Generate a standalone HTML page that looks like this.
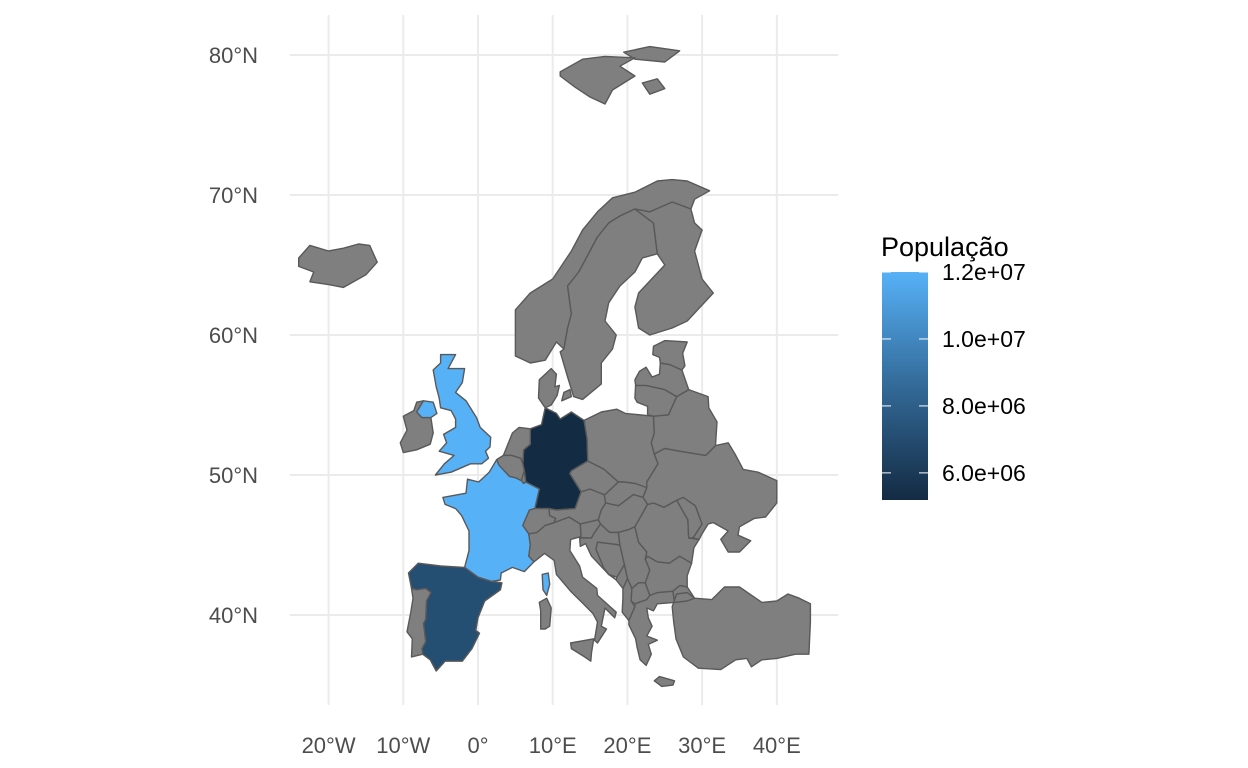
<!DOCTYPE html>
<html><head><meta charset="utf-8">
<style>
html,body{margin:0;padding:0;background:#fff;}
svg{display:block;font-family:"Liberation Sans",Arial,sans-serif;}
</style></head>
<body>
<svg id="chart" width="1248" height="768" viewBox="0 0 1248 768" xmlns="http://www.w3.org/2000/svg">
<g id="grid"></g>
<g id="map"></g>
<g id="axes"></g>
<g id="legend">
<defs><linearGradient id="grad" x1="0" y1="1" x2="0" y2="0">
<stop offset="0" stop-color="#132B43"/><stop offset="0.5" stop-color="#336A98"/><stop offset="1" stop-color="#56B1F7"/></linearGradient></defs>
<text x="881" y="256" font-size="27" fill="#000">População</text>
</g>
</svg>
<script>
const lonTicks=[-20,-10,0,10,20,30,40];
const lonLabels=["20°W","10°W","0°","10°E","20°E","30°E","40°E"];
const latTicks=[40,50,60,70,80];
const latLabels=["40°N","50°N","60°N","70°N","80°N"];
const legendValues=[12000000,10000000,8000000,6000000];
const legendLabels=["1.2e+07","1.0e+07","8.0e+06","6.0e+06"];
const popCountries=["France","United Kingdom","Spain","Germany"];
const popValues=[12000000,12000000,7100000,5200000];
const scaleMin=5190000, scaleMax=12000000;

const X=lon=>478+lon*7.47;
const Y=lat=>55+(80-lat)*14;
const LY=v=>272+(scaleMax-v)/(scaleMax-scaleMin)*228;

const shapes={
"Iceland":[[[-24,65.5],[-22.5,66.4],[-20,66],[-18,66.2],[-16,66.5],[-14.5,66.4],[-13.5,65.2],[-15,64.3],[-18,63.4],[-20,63.6],[-22.5,63.8],[-22,64.5],[-24,64.9]]],
"Svalbard":[[[11,78.8],[14,79.7],[17,79.9],[21,79.8],[19,79.2],[21,78.5],[18,77.5],[17,76.5],[15,77],[13,77.7],[11,78.5]],[[19.5,80.2],[23,80.6],[27,80.3],[25,79.5],[21,79.7]],[[22,78],[24,78.3],[25,77.6],[23,77.2]]],
"Norway":[[[5,58.5],[5,60],[5,61.8],[7,63],[10,64],[12.5,66],[14,67.5],[16,68.8],[18,69.8],[21,70.2],[24,71],[26,71.1],[28,71],[31,70.3],[29,69.7],[28.5,69],[26,69.5],[24,68.6],[21,69],[19,68.5],[17.5,68],[16,67],[15,66],[13.5,64.5],[12,63.5],[12.5,61.5],[12,60.5],[11.5,59],[10.5,59.5],[9,58.2],[7,58]]],
"Sweden":[[[11.5,59],[12,60.5],[12.5,61.5],[12,63.5],[13.5,64.5],[15,66],[16,67],[17.5,68],[19,68.5],[21,69],[23.5,68],[24,65.8],[22,65.5],[21,64.5],[19,63.5],[17.5,62.3],[17,61],[18.5,60],[18,59],[16.5,58],[16.5,56.5],[14,55.4],[12.8,55.6],[12,57],[11,58.8]]],
"Finland":[[[21.5,60.5],[21,62],[21.5,63],[25,65],[24,65.8],[23.5,68],[21,69],[23,68.8],[26,69.5],[28.5,69],[29,68],[30,67.5],[29,66],[30,64],[31.5,63],[28,61],[26,60.5],[23,60]]],
"Germany":[[[6,50.8],[6.1,51.8],[7,52.2],[7,53.3],[8.5,53.6],[9,54.8],[10.5,54.4],[11,54],[12.5,54.5],[14.2,53.9],[14.6,52.6],[14.7,51],[12.5,50.3],[12.3,50.1],[13.8,48.8],[13,47.6],[10.5,47.5],[9.5,47.6],[7.6,47.6],[8.2,49],[6.4,49.5],[6.2,50.3]]],
"Denmark":[[[8.1,55.5],[8.2,56.8],[9.8,57.6],[10.5,57.2],[10.3,56.3],[10.9,56.4],[10.6,55.7],[9.8,55],[9,54.8]],[[11.2,55.3],[12.5,55.6],[12.3,56.1],[11.5,55.9]]],
"Netherlands":[[[3.4,51.4],[4.6,53],[5.5,53.4],[7,53.3],[7,52.2],[6.1,51.8],[6,50.8],[5.7,51.2],[4.5,51.4]]],
"Belgium":[[[2.5,51.1],[3.4,51.4],[4.5,51.4],[5.7,51.2],[6,50.8],[6.2,50.3],[5.8,49.6],[5,49.8],[4.2,49.9],[2.8,50.7]]],
"Luxembourg":[[[5.8,49.6],[6.2,50.3],[6.4,49.5],[6.1,49.4]]],
"France":[[[-4.7,48.4],[-1.6,48.7],[-1.4,49.7],[0.1,49.5],[1.5,50.2],[2.5,51.1],[2.8,50.7],[4.2,49.9],[5,49.8],[5.8,49.6],[6.1,49.4],[6.4,49.5],[8.2,49],[7.6,47.6],[6.9,47.5],[6,46.4],[6.8,45.8],[7,45],[6.8,44.2],[7.5,43.8],[6.2,43.1],[4.6,43.4],[3.1,43],[3,42.5],[1.8,42.4],[0,42.7],[-1.8,43.4],[-1.2,44.6],[-1.2,46],[-2.2,47.1],[-3,47.6],[-4.4,47.9]],[[8.6,42.9],[9.4,43],[9.6,42.2],[9.2,41.4],[8.7,41.8]]],
"Spain":[[[-9.3,43],[-8,43.7],[-5,43.5],[-1.8,43.4],[0,42.7],[1.8,42.4],[3.2,42.3],[3,41.8],[0.9,41],[0,39.8],[-0.3,38.9],[0.2,38.7],[-0.8,37.6],[-2.1,36.7],[-4.4,36.7],[-5.6,36],[-6.4,36.8],[-7.4,37.2],[-7.5,37.6],[-7,38.1],[-7.3,39.4],[-7,39.7],[-6.9,41],[-6.3,41.6],[-7,41.9],[-8.2,41.8],[-8.9,41.9]]],
"Portugal":[[[-8.9,41.9],[-8.2,41.8],[-7,41.9],[-6.3,41.6],[-6.9,41],[-7,39.7],[-7.3,39.4],[-7,38.1],[-7.5,37.6],[-7.4,37.2],[-8.9,37],[-8.8,38.3],[-9.5,38.8],[-9,40.2],[-8.7,41.2]]],
"Italy":[[[7,45],[6.8,45.8],[7.9,45.9],[9,46.4],[10.2,46.6],[12.2,47],[13.7,46.5],[13.8,45.6],[12.4,45.4],[12.3,44.6],[13.6,43.5],[14,42.7],[15.9,41.9],[16,41.4],[18.5,40.2],[18.3,39.8],[17,40.5],[16.5,39.2],[17.2,39],[16,38],[15.6,38.2],[16,39.5],[15.4,40.1],[14.1,40.8],[12.4,41.7],[10.5,42.9],[10.2,43.9],[8.9,44.4],[7.5,43.8],[6.8,44.2]],[[12.4,38],[15.5,38.3],[15.2,37.3],[15.1,36.7],[14.3,37],[12.5,37.6]],[[8.2,40.9],[9.2,41.2],[9.8,40.5],[9.6,39.2],[9,39],[8.4,39],[8.4,40.3]]],
"Switzerland":[[[6,46.4],[6.9,47.5],[7.6,47.6],[9.5,47.6],[9.6,47.1],[10.4,46.9],[10.2,46.6],[9,46.4],[7.9,45.9],[6.8,45.8]]],
"Austria":[[[9.5,47.6],[10.5,47.5],[13,47.6],[13.8,48.8],[15,49],[16.9,48.6],[17.1,48],[16.5,47.5],[16.1,46.8],[13.7,46.5],[12.2,47],[10.2,46.6],[10.4,46.9],[9.6,47.1]]],
"Czechia":[[[12.3,50.1],[12.5,50.3],[14.7,51],[16.2,50.6],[16.9,50.4],[18.8,49.5],[17,48.6],[16.9,48.6],[15,49],[13.8,48.8]]],
"Poland":[[[14.2,53.9],[16.5,54.5],[18.6,54.7],[19.7,54.4],[23.5,54.2],[23.6,53],[23.2,52.3],[23.6,51.5],[24.1,50.8],[22.6,49.5],[22.8,49],[21,49.4],[19.5,49.5],[18.8,49.5],[16.9,50.4],[16.2,50.6],[14.7,51],[14.6,52.6]]],
"Slovakia":[[[16.9,48.6],[17,48.6],[18.8,49.5],[19.5,49.5],[21,49.4],[22.6,49.1],[22.1,48.4],[20.8,48.6],[18.8,47.8],[17.1,48]]],
"Hungary":[[[16.1,46.8],[16.5,47.5],[17.1,48],[18.8,47.8],[20.8,48.6],[22.1,48.4],[22.7,47.9],[21,46.3],[20.2,46.1],[18.8,45.9],[17.6,45.9],[16.4,46.5]]],
"Slovenia":[[[13.7,46.5],[16.1,46.8],[16.4,46.5],[15.5,45.8],[15.2,45.5],[13.6,45.5],[13.8,45.6]]],
"Croatia":[[[13.6,45.5],[15.2,45.5],[15.5,45.8],[16.4,46.5],[17.6,45.9],[18.8,45.9],[19,45],[17.5,45.1],[16,45.2],[15.8,44.7],[16.8,43.4],[18.5,42.5],[17.5,42.9],[15.2,44.2],[14.4,45.1],[13.7,44.9]]],
"Bosnia":[[[15.8,44.7],[16,45.2],[17.5,45.1],[19,45],[19.3,44.3],[19.6,43.6],[18.6,42.7],[17.5,42.9],[16.8,43.4]]],
"Serbia":[[[18.8,45.9],[20.2,46.1],[21,46.3],[21.5,45.2],[22.6,44.5],[22.4,44],[23,43.2],[22.4,42.3],[21.5,42.3],[20.6,41.9],[20,42.6],[19.6,43.6],[19.3,44.3],[19,45]]],
"Montenegro":[[[18.5,42.5],[18.6,42.7],[19.6,43.6],[20,42.6],[19.5,42],[19.4,41.9]]],
"Albania":[[[19.4,41.9],[19.5,42],[20,42.6],[20.6,41.9],[20.5,41],[21,40.6],[20.2,39.6],[19.3,40.2],[19.4,41.2]]],
"North Macedonia":[[[20.6,41.9],[21.5,42.3],[22.4,42.3],[23,41.4],[22.6,41.1],[21,40.8],[20.5,41]]],
"Greece":[[[20.2,39.6],[21,40.6],[21,40.8],[22.6,41.1],[23,41.4],[24,41.6],[26.1,41.7],[26.3,40.9],[24,40.8],[23.5,40.3],[22.6,40.5],[22.8,39.8],[23.3,39.2],[22.6,38.5],[24,38.2],[22.8,37.9],[23.2,37.2],[22.5,36.4],[21.7,36.8],[21.3,37.7],[21.1,38.3],[20.2,39.3]],[[23.6,35.3],[24.3,35.6],[26.3,35.3],[26.1,35],[24.6,34.9]]],
"Bulgaria":[[[22.4,44],[22.7,44.2],[24,43.8],[25.6,43.7],[27,44.2],[28.6,43.7],[28,42.8],[28,42],[27,42.1],[26.1,41.7],[24,41.6],[23,41.4],[22.4,42.3],[23,43.2]]],
"Romania":[[[21,46.3],[22.7,47.9],[23.5,48],[24.9,47.7],[26.6,48.2],[28.1,46.8],[28.2,45.5],[29.6,45.4],[28.9,44.8],[28.6,43.7],[27,44.2],[25.6,43.7],[24,43.8],[22.7,44.2],[22.4,44],[22.6,44.5],[21.5,45.2]]],
"Moldova":[[[26.6,48.2],[27.5,48.4],[29.1,47.8],[30,46.5],[28.8,45.5],[28.2,45.5],[28.1,46.8]]],
"Ukraine":[[[22.1,48.4],[22.6,49.1],[22.6,49.5],[24.1,50.8],[23.6,51.5],[25,51.9],[27,51.7],[30.5,51.4],[31.8,52.1],[33.5,52.3],[34.4,51.5],[35.5,50.4],[37.5,50.2],[40,49.6],[40,48],[38.5,47],[37,46.9],[35,46.3],[34.8,45.7],[36.5,45.3],[35,44.5],[33.5,44.5],[32.5,45.4],[33.5,46],[31.5,46.6],[30.8,46.5],[30,45.8],[29.6,45.4],[28.8,45.5],[30,46.5],[29.1,47.8],[27.5,48.4],[26.6,48.2],[24.9,47.7],[23.5,48],[22.7,47.9]]],
"Belarus":[[[23.6,53],[23.5,54.2],[25.5,54.3],[26.6,55.6],[28.2,56.1],[30.8,55.6],[30.9,54.8],[32,53.8],[31.8,52.1],[30.5,51.4],[27,51.7],[25,51.9],[23.6,51.5],[23.2,52.3]]],
"Lithuania":[[[21,55.5],[21.1,56.4],[22.5,56.4],[25,56.1],[26.6,55.6],[25.5,54.3],[23.5,54.2],[22.7,54.3],[22.7,54.9],[21.3,55.2]]],
"Latvia":[[[21,56.8],[21.6,57.4],[22.5,57.7],[23.3,57],[24.3,57.2],[24.4,58],[25.6,57.9],[27.3,57.5],[28.2,56.1],[26.6,55.6],[25,56.1],[22.5,56.4],[21.1,56.4]]],
"Estonia":[[[23.4,58.6],[23.5,59.2],[25,59.6],[28,59.5],[27.4,58.7],[27.7,57.8],[27.3,57.5],[25.6,57.9],[24.4,58],[24.3,58.4]]],
"Ireland":[[[-10,51.6],[-10.4,52.3],[-9.5,53.2],[-10,54.2],[-8.6,54.6],[-8.2,55.2],[-7.3,55.3],[-8.2,54.5],[-7.5,54.1],[-6.3,54.1],[-6,53],[-6.4,52.2],[-8.2,51.8]]],
"United Kingdom":[[[-5,58.6],[-3,58.6],[-4,57.6],[-1.8,57.6],[-2.1,56.6],[-3,55.9],[-1.6,55.3],[-0.2,54.1],[0.3,53.4],[1.7,52.7],[1.6,52],[1,51.7],[1.4,51.2],[0.5,50.8],[-1,50.8],[-3.6,50.2],[-5.7,50],[-4.5,50.8],[-3.2,51.4],[-5.2,51.7],[-4.2,52.3],[-4.6,52.9],[-3,53.4],[-3,54],[-3.6,54.6],[-5,54.8],[-5.2,55.5],[-5.6,56.3],[-6,57.5],[-5,58]],[[-8.2,54.5],[-7.3,55.3],[-6,55.2],[-5.5,54.4],[-6.3,54.1],[-7.5,54.1]]],
"Turkey":[[[26,40.6],[26.6,41.5],[28,41.6],[29,41.2],[31.3,41.1],[33,42],[35,42],[38,40.9],[40,41],[41.5,41.5],[43,41.2],[44.5,40.8],[44.5,39.5],[44.3,37.2],[42.5,37.2],[40,36.9],[38,36.8],[36.6,36.3],[36,36.9],[34.5,36.8],[32.5,36.1],[29.5,36.2],[27.5,37],[26.5,38.3],[26.2,39.5]],[[26.1,41.7],[27,42.1],[28,42],[29,41.2],[28,41],[26.3,40.9]]]
};

const NS="http://www.w3.org/2000/svg";
function mk(tag,attrs,parent){const e=document.createElementNS(NS,tag);for(const k in attrs)e.setAttribute(k,attrs[k]);parent.appendChild(e);return e;}
function hex2rgb(h){return [1,3,5].map(i=>parseInt(h.substr(i,2),16));}
const lo=hex2rgb("#132B43"),mid=hex2rgb("#336A98"),hi=hex2rgb("#56B1F7");
function colorFor(v){let t=(v-scaleMin)/(scaleMax-scaleMin);t=Math.max(0,Math.min(1,t));
 let a,b,u;if(t<0.5){a=lo;b=mid;u=t/0.5;}else{a=mid;b=hi;u=(t-0.5)/0.5;}
 return "rgb("+a.map((c,i)=>Math.round(c+(b[i]-c)*u)).join(",")+")";}

const grid=document.getElementById('grid');
lonTicks.forEach((lon,i)=>{
 const l=mk('line',{x1:X(lon),x2:X(lon),y1:15,y2:705,stroke:'#EBEBEB','stroke-width':2},grid);
 
 
});
latTicks.forEach((lat,i)=>{
 const l=mk('line',{x1:290,x2:838,y1:Y(lat),y2:Y(lat),stroke:'#EBEBEB','stroke-width':2},grid);
 
 
});

const map=document.getElementById('map');
Object.keys(shapes).forEach(name=>{
 const idx=popCountries.indexOf(name);
 const fill=idx>=0?colorFor(popValues[idx]):'#7F7F7F';
 const d=shapes[name].map(r=>'M'+r.map(p=>X(p[0]).toFixed(1)+','+Y(p[1]).toFixed(1)).join('L')+'Z').join('');
 const p=mk('path',{d:d,fill:fill,stroke:'#595959','stroke-width':1.4,'stroke-linejoin':'round'},map);
 
 
});

const axes=document.getElementById('axes');
lonTicks.forEach((lon,i)=>{
 const t=mk('text',{x:X(lon),y:753,'text-anchor':'middle','font-size':22,fill:'#4D4D4D'},axes);
 t.textContent=lonLabels[i];
 
 
});
latTicks.forEach((lat,i)=>{
 const t=mk('text',{x:258,y:Y(lat)+8,'text-anchor':'end','font-size':22,fill:'#4D4D4D'},axes);
 t.textContent=latLabels[i];
 
 
});

const legend=document.getElementById('legend');
const bar=mk('rect',{x:882,y:272,width:46,height:228,fill:'url(#grad)'},legend);


legendValues.forEach((v,i)=>{
 const y=LY(v);
 mk('line',{x1:882,x2:891,y1:y,y2:y,stroke:'#fff','stroke-width':1},legend);
 mk('line',{x1:919,x2:928,y1:y,y2:y,stroke:'#fff','stroke-width':1},legend);
 const t=mk('text',{x:942,y:y+8,'font-size':23,fill:'#000'},legend);
 t.textContent=legendLabels[i];
 
 
});
</script>
</body></html>
